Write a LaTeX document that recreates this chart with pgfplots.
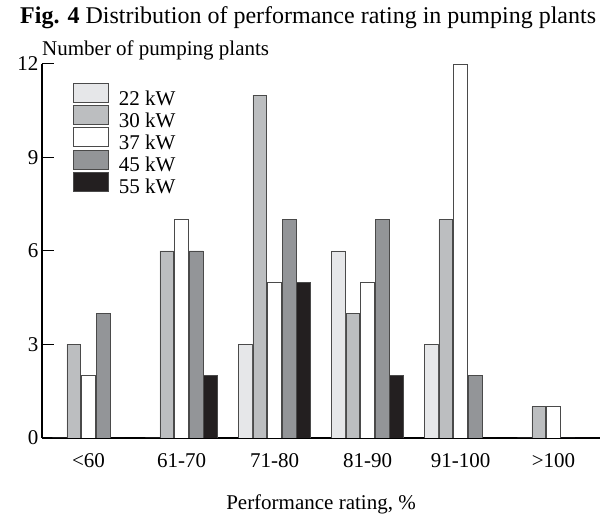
\documentclass[border=0pt]{standalone}
\usepackage{pgfplots}
\pgfplotsset{compat=1.18}
\usepackage{fontspec}
\setmainfont{Liberation Serif}

\definecolor{kw22}{HTML}{E6E7E9}
\definecolor{kw30}{HTML}{BCBEC0}
\definecolor{kw37}{HTML}{FFFFFF}
\definecolor{kw45}{HTML}{939598}
\definecolor{kw55}{HTML}{231F20}
\definecolor{edge}{HTML}{4A4A4A}

\begin{document}
\begin{tikzpicture}[x=1bp,y=1bp]
	\begin{axis}[
		scale only axis,
		width=558bp, height=374bp,
		axis lines*=left,
		axis line style={black, line width=1.1bp},
		xmin=-0.5, xmax=5.5,
		ymin=0, ymax=12,
		xtick={0,1,2,3,4,5},
		xticklabels={<60,61-70,71-80,81-90,91-100,>100},
		xtick style={draw=none},
		ytick={0,3,6,9,12},
		ytick style={black, line width=1bp},
		tick align=inside,
		major tick length=12bp,
		ticklabel style={font=\fontsize{21bp}{25bp}\selectfont},
		/pgf/number format/assume math mode=true,
		ybar=0.6bp,
		bar width=0.15,
		legend style={
			at={(0.0556,0.949)}, anchor=north west,
			draw=none, fill=none, inner sep=0pt, outer sep=0pt,
			row sep=-2.3bp,
			nodes={inner sep=1bp},
			font=\fontsize{21bp}{25bp}\selectfont,
			/tikz/every odd column/.append style={column sep=9bp},
		},
		legend cell align=left,
		legend image code/.code={
			\draw[#1] (0bp,-4bp) rectangle (35bp,15bp);
		},
		every axis plot/.append style={draw=edge, line width=0.9bp},
		]
		
		\addplot[fill=kw22] coordinates {(0,0) (1,0) (2,3) (3,6) (4,3) (5,0)};
		\addlegendentry{22 kW}
		\addplot[fill=kw30] coordinates {(0,3) (1,6) (2,11) (3,4) (4,7) (5,1)};
		\addlegendentry{30 kW}
		\addplot[fill=kw37] coordinates {(0,2) (1,7) (2,5) (3,5) (4,12) (5,1)};
		\addlegendentry{37 kW}
		\addplot[fill=kw45] coordinates {(0,4) (1,6) (2,7) (3,7) (4,2) (5,0)};
		\addlegendentry{45 kW}
		\addplot[fill=kw55] coordinates {(0,0) (1,2) (2,5) (3,2) (4,0) (5,0)};
		\addlegendentry{55 kW}
		
		\coordinate (O) at (rel axis cs:0,0);
	\end{axis}
	
	% frame of the whole figure, measured from the axis corner
	\pgfresetboundingbox
	\path[use as bounding box, shift={(O)}] (-42,-83) rectangle (571,438);
	
	\begin{scope}[shift={(O)}]
		\node[anchor=base west,inner sep=0] at (-22,414)
		{\fontsize{24bp}{28bp}\selectfont\textbf{Fig. 4} Distribution of performance rating in pumping plants};
		\node[anchor=base west,inner sep=0] at (0,382)
		{\fontsize{21bp}{25bp}\selectfont Number of pumping plants};
		\node[anchor=base,inner sep=0] at (279,-72)
		{\fontsize{21bp}{25bp}\selectfont Performance rating, \%};
	\end{scope}
\end{tikzpicture}
\end{document}
